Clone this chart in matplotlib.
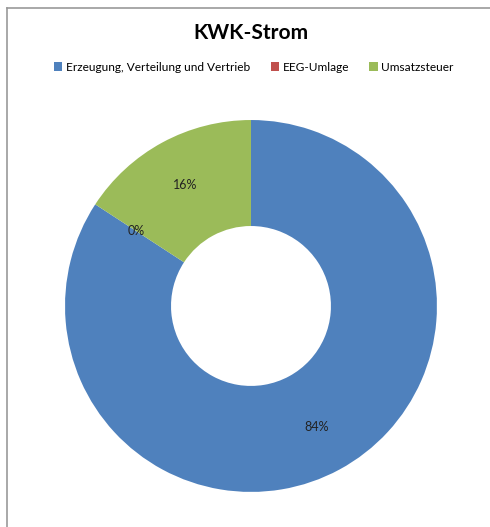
import matplotlib.pyplot as plt
from matplotlib.lines import Line2D
from matplotlib.patches import Patch

# Data
categories = ['Erzeugung, Verteilung und Vertrieb', 'EEG-Umlage', 'Umsatzsteuer']
shares = [84.2, 0.0, 15.8]
colors = ['#4F81BD', '#C0504D', '#9BBB59']

plt.rcParams['font.family'] = ['Lato', 'DejaVu Sans']

fig = plt.figure(figsize=(4.9, 5.27), dpi=100)

# Donut axes, centered on the ring
ax = fig.add_axes([0.1327, 0.0664, 0.759, 0.706])
wedges, texts, autotexts = ax.pie(
    shares, colors=colors, startangle=90, counterclock=False,
    radius=1.0, wedgeprops=dict(width=0.57, edgecolor='none'),
    autopct='%.0f%%', pctdistance=0.74,
    textprops=dict(fontsize=9, color='#222222'))
ax.set_xlim(-1, 1)
ax.set_ylim(-1, 1)
ax.set_aspect('equal')
ax.axis('off')

# Title
fig.text(0.512, 1 - 33 / 527, 'KWK-Strom', ha='center', va='center',
         fontsize=15, fontweight='bold', color='black')

# Legend
handles = [Patch(facecolor=c, edgecolor='none') for c in colors]
fig.legend(handles, categories, loc='center', bbox_to_anchor=(0.518, 1 - 67 / 527),
           ncol=3, frameon=False, fontsize=8.6, handlelength=0.7, handleheight=0.7,
           handletextpad=0.3, columnspacing=1.7)

# Chart frame (only left and top edges visible in the crop)
fig.add_artist(Line2D([6.5 / 490, 6.5 / 490], [0, 1 - 8 / 527],
                      transform=fig.transFigure, color='#999999', lw=1.2))
fig.add_artist(Line2D([6.5 / 490, 1], [1 - 8 / 527, 1 - 8 / 527],
                      transform=fig.transFigure, color='#999999', lw=1.2))

fig.savefig('out.png', dpi=100)
